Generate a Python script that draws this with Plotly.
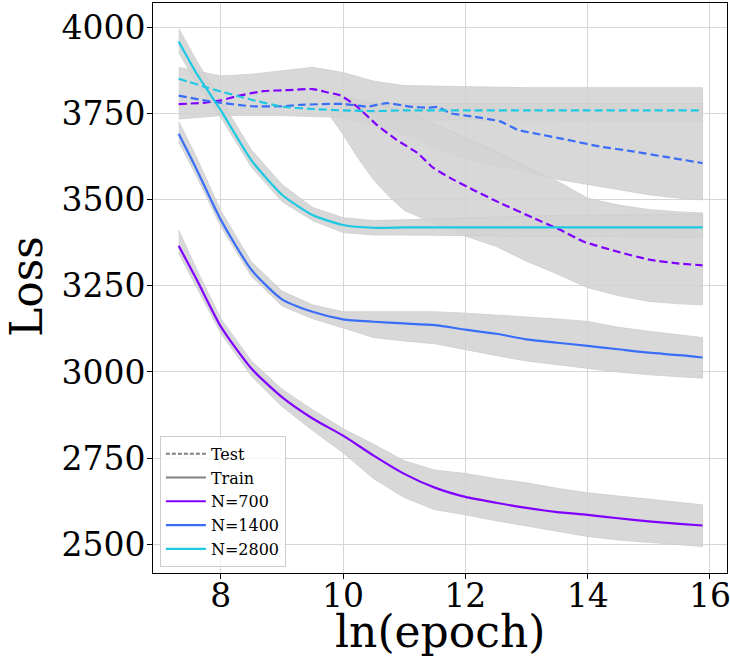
import plotly.graph_objects as go

# ---------------- data ----------------
x_grid = [7.31, 7.6, 8.0, 8.5, 9.0, 9.5, 10.0, 10.5, 11.0, 11.5, 12.0, 12.5,
          13.0, 13.5, 14.0, 14.5, 15.0, 15.5, 15.88]

train_700 = [3367, 3270, 3132, 3010, 2927, 2865, 2815, 2757, 2704, 2664, 2637,
             2620, 2605, 2593, 2585, 2575, 2566, 2559, 2554]
train_1400 = [3692, 3590, 3442, 3297, 3211, 3175, 3153, 3146, 3141, 3136, 3123,
              3111, 3095, 3085, 3076, 3066, 3056, 3049, 3042]
train_2800 = [3960, 3868, 3760, 3615, 3515, 3456, 3427, 3419, 3420, 3420, 3420,
              3420, 3420, 3420, 3420, 3420, 3420, 3420, 3420]

# spread of individual training runs (lower / upper envelope)
train_700_lo = [3345, 3245, 3112, 2988, 2900, 2830, 2765, 2690, 2635, 2600, 2585,
                2568, 2552, 2537, 2522, 2512, 2505, 2498, 2493]
train_700_hi = [3412, 3300, 3155, 3032, 2950, 2890, 2835, 2790, 2742, 2715, 2705,
                2690, 2678, 2662, 2649, 2640, 2630, 2620, 2614]
train_1400_lo = [3668, 3570, 3422, 3278, 3192, 3155, 3128, 3100, 3090, 3082, 3064,
                 3048, 3032, 3022, 3011, 3000, 2992, 2986, 2982]
train_1400_hi = [3728, 3625, 3468, 3320, 3235, 3195, 3175, 3175, 3175, 3175, 3171,
                 3166, 3161, 3154, 3147, 3130, 3118, 3108, 3100]
train_2800_lo = [3928, 3840, 3740, 3595, 3495, 3440, 3405, 3398, 3398, 3397, 3396,
                 3395, 3395, 3394, 3393, 3393, 3392, 3392, 3392]
train_2800_hi = [3998, 3905, 3790, 3645, 3545, 3478, 3448, 3440, 3442, 3445, 3448,
                 3450, 3452, 3455, 3455, 3456, 3457, 3458, 3458]

x_test_700 = [7.31, 7.77, 8.0, 8.3, 8.7, 9.1, 9.5, 9.75, 9.95, 10.22, 10.55, 10.87,
              11.21, 11.47, 11.75, 12.13, 12.57, 13.11, 13.55, 13.93, 14.48, 15.02,
              15.5, 15.88]
test_700 = [3778, 3783, 3789, 3803, 3816, 3819, 3822, 3812, 3804, 3772, 3718, 3675,
            3637, 3594, 3564, 3529, 3491, 3448, 3413, 3379, 3350, 3326, 3315, 3310]

x_test_1400 = [7.31, 7.7, 8.0, 8.5, 9.0, 9.3, 10.0, 10.39, 10.72, 11.09, 11.4, 11.55,
               11.75, 12.13, 12.57, 12.85, 13.11, 13.66, 14.2, 14.74, 15.3, 15.88]
test_1400 = [3803, 3790, 3782, 3772, 3772, 3776, 3779, 3771, 3781, 3771, 3768, 3770,
             3752, 3742, 3728, 3704, 3694, 3675, 3655, 3641, 3624, 3607]

x_test_2800 = [7.31, 7.8, 8.0, 8.5, 9.0, 9.5, 10.0, 10.5, 11.0, 12.0, 13.0, 14.0,
               15.0, 15.88]
test_2800 = [3852, 3825, 3815, 3791, 3771, 3764, 3760, 3758, 3760, 3760, 3760, 3760,
             3760, 3760]

# spread of individual test runs
x_band_test_all = [7.31, 8.0, 8.5, 9.0, 9.5, 10.0, 10.5, 11.0, 12.0, 13.0, 14.0,
                   15.0, 15.88]
test_all_lo = [3735, 3745, 3745, 3745, 3742, 3740, 3735, 3732, 3730, 3730, 3730,
               3730, 3730]
test_all_hi = [3885, 3860, 3865, 3875, 3885, 3870, 3845, 3832, 3828, 3826, 3826,
               3826, 3826]

x_band_test_1400 = [10.0, 10.5, 11.0, 11.5, 12.0, 12.5, 13.0, 13.5, 14.0, 14.5,
                    15.0, 15.5, 15.88]
test_1400_lo = [3735, 3715, 3690, 3650, 3620, 3600, 3580, 3560, 3545, 3530, 3515,
                3505, 3500]
test_1400_hi = [3780, 3780, 3780, 3780, 3780, 3780, 3780, 3780, 3780, 3780, 3780,
                3780, 3780]

x_band_test_700 = [9.8, 10.0, 10.25, 10.5, 10.75, 11.0, 11.5, 12.0, 12.5, 13.0,
                   13.5, 14.0, 14.5, 15.0, 15.5, 15.88]
test_700_lo = [3740, 3690, 3620, 3558, 3510, 3470, 3430, 3395, 3365, 3322, 3285,
               3245, 3222, 3205, 3198, 3195]
test_700_hi = [3800, 3800, 3790, 3780, 3770, 3760, 3720, 3680, 3640, 3595, 3555,
               3505, 3485, 3472, 3465, 3462]

labels = ["N=700", "N=1400", "N=2800"]
colors = ["#8000ff", "#3a6ef7", "#1cc8e2"]

x_ticks = [8, 10, 12, 14, 16]
y_ticks = [2500, 2750, 3000, 3250, 3500, 3750, 4000]

# ---------------- figure ----------------
FONT = "DejaVu Serif"
BAND = "rgba(211,211,211,0.88)"
fig = go.Figure()


def add_band(xs, lo, hi):
    fig.add_trace(go.Scatter(
        x=list(xs) + list(xs)[::-1], y=list(hi) + list(lo)[::-1],
        fill="toself", fillcolor=BAND, mode="lines",
        line=dict(width=0.8, color="rgba(205,205,205,1)"),
        showlegend=False, hoverinfo="skip"))


add_band(x_band_test_all, test_all_lo, test_all_hi)
add_band(x_band_test_1400, test_1400_lo, test_1400_hi)
add_band(x_band_test_700, test_700_lo, test_700_hi)
add_band(x_grid, train_2800_lo, train_2800_hi)
add_band(x_grid, train_1400_lo, train_1400_hi)
add_band(x_grid, train_700_lo, train_700_hi)

# legend-only style entries
fig.add_trace(go.Scatter(x=[None], y=[None], mode="lines", name="Test",
                         line=dict(color="#808080", width=2, dash="4px,2px")))
fig.add_trace(go.Scatter(x=[None], y=[None], mode="lines", name="Train",
                         line=dict(color="#808080", width=2)))

tests = [(x_test_700, test_700), (x_test_1400, test_1400), (x_test_2800, test_2800)]
trains = [train_700, train_1400, train_2800]
for (xt, yt), col in zip(tests, colors):
    fig.add_trace(go.Scatter(x=xt, y=yt, mode="lines", showlegend=False,
                             line=dict(color=col, width=2.2, dash="8px,4px",
                                       shape="spline", smoothing=0.5)))
for ytr, col, lab in zip(trains, colors, labels):
    fig.add_trace(go.Scatter(x=x_grid, y=ytr, mode="lines", name=lab,
                             line=dict(color=col, width=2.2,
                                       shape="spline", smoothing=0.6)))

axis_common = dict(
    showgrid=True, gridcolor="#d6d6d6", gridwidth=1,
    showline=True, linecolor="black", linewidth=1, mirror=True,
    ticks="outside", ticklen=5, tickcolor="black",
    tickfont=dict(family=FONT, size=33, color="black"),
    zeroline=False, automargin=False, ticklabeloverflow="allow",
)
fig.update_xaxes(range=[6.89, 16.28], tickvals=x_ticks,
                 ticktext=[str(v) for v in x_ticks], ticklabelstandoff=-12,
                 **axis_common)
fig.update_yaxes(range=[2416, 4072], tickvals=y_ticks,
                 ticktext=[str(v) for v in y_ticks], ticklabelstandoff=-5,
                 **axis_common)

# axis titles
fig.add_annotation(text="ln(epoch)", xref="paper", yref="paper", x=0.5, y=-0.1035,
                   xanchor="center", yanchor="middle", showarrow=False,
                   font=dict(family=FONT, size=44, color="black"))
fig.add_annotation(text="Loss", xref="paper", yref="paper", x=-0.2195, y=0.5018,
                   xanchor="center", yanchor="middle", showarrow=False, textangle=-90,
                   font=dict(family=FONT, size=44, color="black"))

fig.update_layout(
    width=730, height=665,
    margin=dict(l=153, r=3, t=3, b=92),
    plot_bgcolor="white", paper_bgcolor="white",
    legend=dict(x=0.012, y=0.011, xanchor="left", yanchor="bottom",
                bgcolor="rgba(255,255,255,0.8)", bordercolor="#cccccc", borderwidth=1,
                font=dict(family=FONT, size=16, color="black"),
                tracegroupgap=0, itemwidth=40),
)

fig.write_html("out.html", config={"displayModeBar": False},
               post_script="document.body.style.margin='0';"
                           "document.body.style.overflow='hidden';")
